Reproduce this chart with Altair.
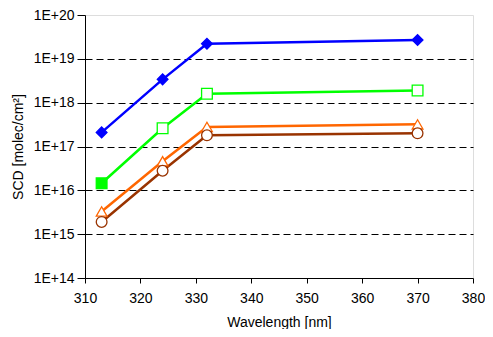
import altair as alt
import pandas as pd

wavelengths = [313, 324, 332, 370]
series_names = ["A", "B", "C", "D"]
blue_vals = [2.1e17, 3.4e18, 2.2e19, 2.7e19]
green_vals = [1.45e16, 2.6e17, 1.6e18, 1.9e18]
orange_vals = [3.3e15, 4.6e16, 2.8e17, 3.2e17]
brown_vals = [1.9e15, 2.8e16, 1.8e17, 2.0e17]
colors = ["#0000FF", "#00FF00", "#FF6600", "#993300"]
shapes = ["diamond", "square", "triangle-up", "circle"]
filled = [[True, True, True, True], [True, False, False, False],
          [False, False, False, False], [False, False, False, False]]

rows = []
for s, vals, col, fl in zip(series_names, [blue_vals, green_vals, orange_vals, brown_vals], colors, filled):
    for w, v, f in zip(wavelengths, vals, fl):
        rows.append({"series": s, "wl": w, "scd": v, "fill": col if f else "white"})
df = pd.DataFrame(rows)

x = alt.X("wl:Q", scale=alt.Scale(domain=[310, 380], nice=False, zero=False),
          axis=alt.Axis(title="Wavelength [nm]", values=list(range(310, 381, 10)), grid=False,
                        domainColor="black", tickColor="black", tickSize=5, labelFlush=False,
                        labelFontSize=14, titleFontSize=14, labelPadding=8, titlePadding=10,
                        labelColor="black", titleColor="black", titleFontWeight="normal",
                        labelFont="Liberation Sans", titleFont="Liberation Sans"))
y = alt.Y("scd:Q", scale=alt.Scale(type="log", domain=[1e14, 1e20], nice=False),
          axis=alt.Axis(title="SCD [molec/cm²]", values=[1e14, 1e15, 1e16, 1e17, 1e18, 1e19, 1e20],
                        labelExpr="'1E+' + round(log(datum.value)/log(10))",
                        grid=True, gridColor="black", gridDash=[7, 4], gridWidth=1,
                        gridOpacity={"condition": {"test": "datum.value >= 1e20 || datum.value <= 1e14", "value": 0}, "value": 1},
                        domainColor="black", tickColor="black", tickSize=8, labelFlush=False,
                        labelFontSize=14, titleFontSize=14, labelPadding=3, titlePadding=8,
                        labelColor="black", titleColor="black", titleFontWeight="normal",
                        labelFont="Liberation Sans", titleFont="Liberation Sans"))
color = alt.Color("series:N", scale=alt.Scale(domain=series_names, range=colors), legend=None)

lines = alt.Chart(df).mark_line(strokeWidth=2.5).encode(x=x, y=y, color=color, detail="series:N")
points = alt.Chart(df).mark_point(size=115, strokeWidth=1.3, opacity=1).encode(
    x=x, y=y,
    stroke=alt.Stroke("series:N", scale=alt.Scale(domain=series_names, range=colors), legend=None),
    fill=alt.Fill("fill:N", scale=None),
    shape=alt.Shape("series:N", scale=alt.Scale(domain=series_names, range=shapes), legend=None),
)

chart = (lines + points).properties(
    width=388, height=263, autosize=alt.AutoSizeParams(type="none"),
    padding={"left": 77, "top": 7, "right": 12, "bottom": 51},
).configure_view(stroke="#888888", strokeWidth=1).configure(background="white")

chart.save("out.html", embed_options={"renderer": "svg", "actions": False})
